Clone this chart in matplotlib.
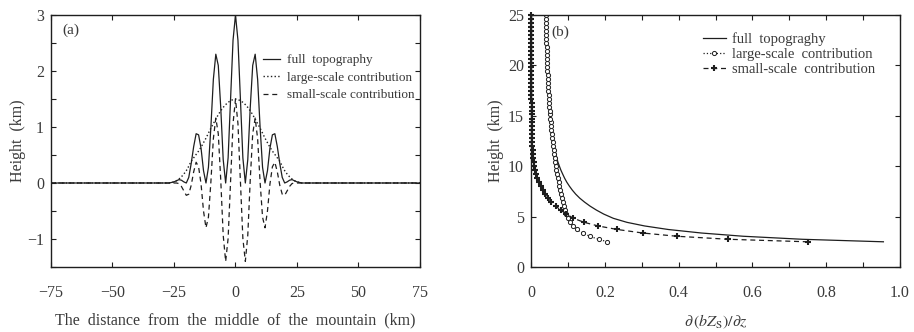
import numpy as np
import matplotlib.pyplot as plt
from matplotlib.ticker import MultipleLocator

plt.rcParams['font.family'] = ['Liberation Serif', 'DejaVu Serif']
plt.rcParams['mathtext.fontset'] = 'stix'

# (a) topography cross-section, distance in km
dist = [-75] + list(range(-27, 28)) + [75]
full_topo = [0.00,
             0.00, 0.01, 0.02, 0.04, 0.06, 0.05, 0.02, 0.00, 0.10, 0.35,
             0.65, 0.88, 0.86, 0.62, 0.22, 0.00, 0.28, 1.00, 1.85, 2.30,
             2.10, 1.35, 0.42, 0.00, 0.45, 1.50, 2.55, 3.00, 2.55, 1.50,
             0.45, 0.00, 0.42, 1.35, 2.10, 2.30, 1.85, 1.00, 0.28, 0.00,
             0.22, 0.62, 0.86, 0.88, 0.65, 0.35, 0.10, 0.00, 0.02, 0.05,
             0.06, 0.04, 0.02, 0.01, 0.00,
             0.00]
large_topo = [0.00,
              0.00, 0.01, 0.02, 0.04, 0.07, 0.11, 0.16, 0.22, 0.30, 0.39,
              0.45, 0.51, 0.57, 0.64, 0.72, 0.80, 0.89, 0.98, 1.06, 1.14,
              1.22, 1.29, 1.35, 1.40, 1.44, 1.47, 1.49, 1.50, 1.49, 1.47,
              1.44, 1.40, 1.35, 1.29, 1.22, 1.14, 1.06, 0.98, 0.89, 0.80,
              0.72, 0.64, 0.57, 0.51, 0.45, 0.39, 0.30, 0.22, 0.16, 0.11,
              0.07, 0.04, 0.02, 0.01, 0.00,
              0.00]
small_topo = [0.00,
              0.00, 0.00, 0.00, 0.00, -0.01, -0.06, -0.14, -0.22, -0.20, -0.04,
              0.20, 0.37, 0.29, -0.02, -0.50, -0.80, -0.61, 0.02, 0.79, 1.16,
              0.88, 0.06, -0.93, -1.40, -0.99, 0.03, 1.06, 1.50, 1.06, 0.03,
              -0.99, -1.40, -0.93, 0.06, 0.88, 1.16, 0.79, 0.02, -0.61, -0.80,
              -0.50, -0.02, 0.29, 0.37, 0.20, -0.04, -0.20, -0.22, -0.14, -0.06,
              -0.01, 0.00, 0.00, 0.00, 0.00,
              0.00]

# (b) d(bZs)/dz profiles against height (km)
heights = [2.5, 2.75, 3.05, 3.37, 3.72, 4.07, 4.43, 4.83, 5.25] + \
          list(np.round(np.linspace(5.65, 25, 50), 2))
full_grad = [0.955, 0.735, 0.575, 0.462, 0.372, 0.308, 0.260, 0.223, 0.197,
             0.177, 0.160, 0.145, 0.132, 0.121, 0.112, 0.104, 0.097, 0.091, 0.086,
             0.081, 0.077, 0.073, 0.070, 0.0675, 0.065, 0.0632, 0.0615, 0.0600, 0.0586,
             0.0573, 0.0561, 0.0550, 0.0540, 0.0531, 0.0522, 0.0513, 0.0505, 0.0497, 0.0491,
             0.0484, 0.0478, 0.0471, 0.0466, 0.0461, 0.0455, 0.0450, 0.0446, 0.0441, 0.0437,
             0.0433, 0.0429, 0.0425, 0.0421, 0.0418, 0.0415, 0.0411, 0.0408, 0.0405, 0.0402]
large_grad = [0.207, 0.183, 0.159, 0.140, 0.125, 0.114, 0.106, 0.100, 0.096,
              0.093, 0.090, 0.087, 0.084, 0.081, 0.079, 0.077, 0.075, 0.073, 0.071,
              0.069, 0.067, 0.0655, 0.064, 0.0625, 0.061, 0.0597, 0.0585, 0.0573, 0.0562,
              0.0551, 0.0541, 0.0532, 0.0523, 0.0515, 0.0507, 0.0499, 0.0492, 0.0485, 0.0479,
              0.0473, 0.0467, 0.0461, 0.0456, 0.0451, 0.0446, 0.0441, 0.0437, 0.0433, 0.0429,
              0.0425, 0.0421, 0.0418, 0.0414, 0.0411, 0.0408, 0.0405, 0.0402, 0.0399, 0.0396]
small_grad = [0.750, 0.535, 0.395, 0.303, 0.234, 0.182, 0.144, 0.115, 0.096,
              0.080, 0.067, 0.055, 0.046, 0.038, 0.032, 0.026, 0.021, 0.017, 0.014,
              0.011, 0.009, 0.007, 0.006, 0.005, 0.004, 0.0035, 0.003, 0.0027, 0.0024,
              0.0022, 0.002, 0.0018, 0.0017, 0.0016, 0.0015, 0.0014, 0.0013, 0.0012, 0.0012,
              0.0011, 0.0011, 0.001, 0.001, 0.001, 0.0009, 0.0009, 0.0009, 0.0008, 0.0008,
              0.0008, 0.0008, 0.0007, 0.0007, 0.0007, 0.0007, 0.0006, 0.0006, 0.0006, 0.0006]

ink = '#1e1e1e'
txt = '#3a3a3a'

fig = plt.figure(figsize=(9.14, 3.32), dpi=100)
ax1 = fig.add_axes([0.0558, 0.1958, 0.4037, 0.759])
ax2 = fig.add_axes([0.581, 0.1958, 0.4037, 0.759])

# --- panel (a)
ax1.plot(dist, full_topo, '-', color=ink, lw=0.9, label='full  topography')
ax1.plot(dist, large_topo, ':', color=ink, lw=1.0, label='large-scale contribution')
ax1.plot(dist, small_topo, '--', color=ink, lw=0.9, dashes=(4, 3), label='small-scale contribution')
ax1.set_xlim(-75, 75)
ax1.set_ylim(-1.5, 3)
ax1.yaxis.set_minor_locator(MultipleLocator(0.5))
ax1.set_xticks([-75, -50, -25, 0, 25, 50, 75])
ax1.set_xticklabels(['\u221275', '\u221250', '\u221225', '0', '25', '50', '75'])
ax1.set_yticks([-1, 0, 1, 2, 3])
ax1.set_yticklabels(['\u22121', '0', '1', '2', '3'])
ax1.set_xlabel('The  distance  from  the  middle  of  the  mountain  (km)', fontsize=11.5,
               color=txt, labelpad=8)
ax1.set_ylabel('Height  (km)', fontsize=11.5, color=txt, labelpad=1)
ax1.text(0.03, 0.94, '(a)', transform=ax1.transAxes, fontsize=11, color=txt, va='center')
ax1.legend(loc='upper left', bbox_to_anchor=(0.575, 0.845), frameon=False, fontsize=9.5,
           handlelength=1.3, handletextpad=0.5, borderpad=0, borderaxespad=0,
           labelspacing=0.4, labelcolor=txt)

# --- panel (b)
ax2.plot(full_grad, heights, '-', color=ink, lw=0.9, label='full  topograghy')
ax2.plot(large_grad, heights, ':', color=ink, lw=0.9, marker='o', ms=3, mfc='white',
         mec=ink, mew=0.7, label='large-scale  contribution')
ax2.plot(small_grad, heights, '--', color=ink, lw=0.9, dashes=(4, 3), marker='+', ms=5,
         mew=1.5, clip_on=False, label='small-scale  contribution')
ax2.set_xlim(0, 1.0)
ax2.set_ylim(0, 25)
ax2.xaxis.set_minor_locator(MultipleLocator(0.1))
ax2.yaxis.set_major_locator(MultipleLocator(5))
ax2.set_xticks([0, 0.2, 0.4, 0.6, 0.8, 1.0])
ax2.set_xticklabels(['0', '0.2', '0.4', '0.6', '0.8', '1.0'])
ax2.set_xlabel(r'$\partial\,(bZ_{\mathrm{S}})/\partial z$', fontsize=11.5, color=txt, labelpad=8)
ax2.set_ylabel('Height  (km)', fontsize=11.5, color=txt, labelpad=3)
ax2.text(0.055, 0.933, '(b)', transform=ax2.transAxes, fontsize=11, color=txt, va='center')
ax2.legend(loc='upper left', bbox_to_anchor=(0.465, 0.93), frameon=False, fontsize=10.5,
           handlelength=1.6, handletextpad=0.4, borderpad=0, borderaxespad=0,
           labelspacing=0.12, numpoints=1, labelcolor=txt)

for ax in (ax1, ax2):
    ax.tick_params(which='both', direction='in', top=True, right=True, length=3.5,
                   width=0.8, labelsize=11.5, labelcolor=txt, color=ink)
    ax.tick_params(axis='x', which='both', pad=13)
    ax.tick_params(axis='y', which='both', pad=5)
    for s in ax.spines.values():
        s.set_linewidth(1.0)
        s.set_color(ink)

fig.savefig('out.png', dpi=100)
